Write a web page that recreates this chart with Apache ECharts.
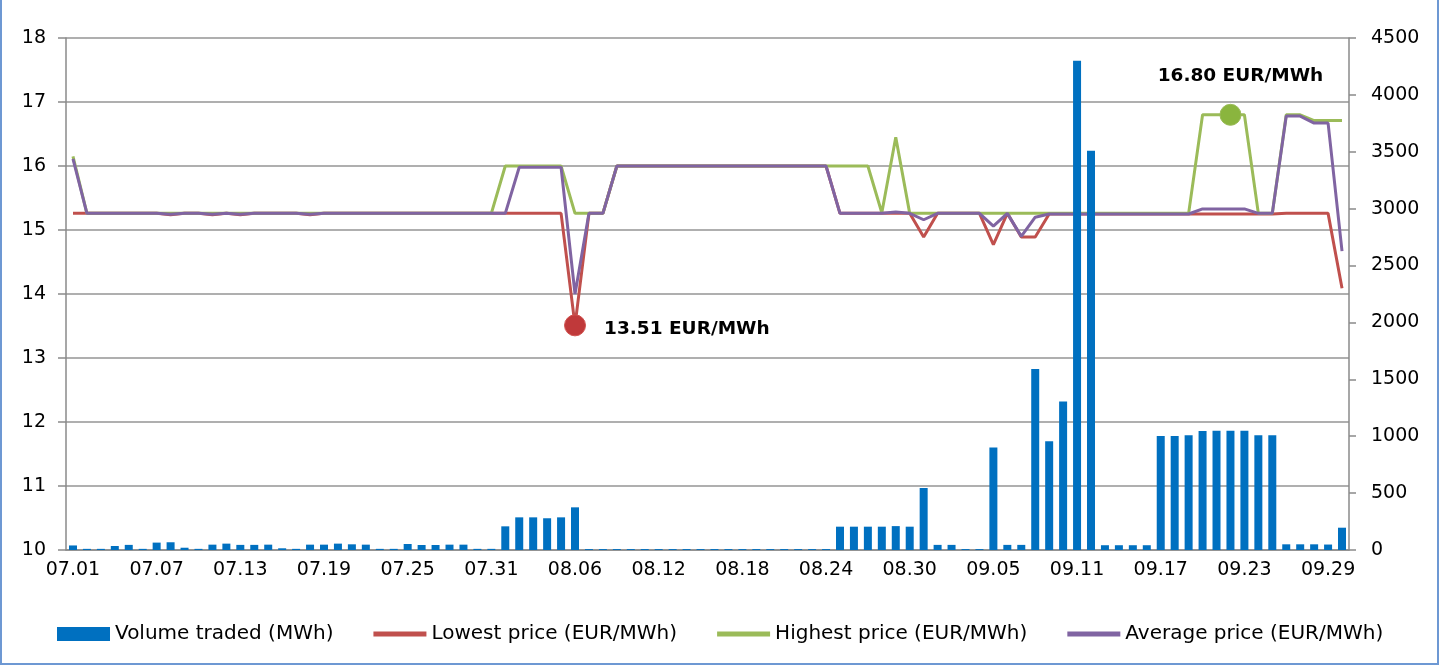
<!DOCTYPE html>
<html><head><meta charset="utf-8">
<script src="https://cdn.jsdelivr.net/npm/echarts@6/dist/echarts.min.js"></script>
<style>html,body{margin:0;padding:0;background:#fff}#c{width:1448px;height:666px}</style>
</head><body><div id="c"></div><script>
// categories: every day from 07.01 to 09.30
const months = [['07', 31], ['08', 31], ['09', 30]];
const dates = [];
months.forEach(([m, n]) => { for (let d = 1; d <= n; d++) dates.push(m + '.' + String(d).padStart(2, '0')); });

const volume = [
  40,10,10,35,45,10,65,68,20,10,
  47,56,45,45,47,15,10,47,47,56,
  50,47,10,10,53,44,44,47,47,10,
  10,208,287,287,279,287,375,8,8,8,
  8,8,8,8,8,8,8,8,8,8,
  8,8,8,8,8,205,205,205,205,210,
  205,545,45,45,8,8,900,45,45,1590,
  955,1305,4300,3510,42,42,42,42,1002,1002,
  1008,1046,1049,1049,1049,1008,1008,50,50,50,
  48,196
];
const lowest = [
  15.26,15.26,15.26,15.26,15.26,15.26,15.26,15.24,15.26,15.26,
  15.24,15.26,15.24,15.26,15.26,15.26,15.26,15.24,15.26,15.26,
  15.26,15.26,15.26,15.26,15.26,15.26,15.26,15.26,15.26,15.26,
  15.26,15.26,15.26,15.26,15.26,15.26,13.51,15.26,15.26,16.00,
  16.00,16.00,16.00,16.00,16.00,16.00,16.00,16.00,16.00,16.00,
  16.00,16.00,16.00,16.00,16.00,15.26,15.26,15.26,15.26,15.26,
  15.26,14.89,15.26,15.26,15.26,15.26,14.77,15.26,14.89,14.89,
  15.25,15.25,15.25,15.25,15.25,15.25,15.25,15.25,15.25,15.25,
  15.25,15.25,15.25,15.25,15.25,15.25,15.25,15.26,15.26,15.26,
  15.26,14.09
];
const highest = [
  16.15,15.26,15.26,15.26,15.26,15.26,15.26,15.26,15.26,15.26,
  15.26,15.26,15.26,15.26,15.26,15.26,15.26,15.26,15.26,15.26,
  15.26,15.26,15.26,15.26,15.26,15.26,15.26,15.26,15.26,15.26,
  15.26,16.00,16.00,16.00,16.00,16.00,15.26,15.26,15.26,16.00,
  16.00,16.00,16.00,16.00,16.00,16.00,16.00,16.00,16.00,16.00,
  16.00,16.00,16.00,16.00,16.00,16.00,16.00,16.00,15.27,16.45,
  15.26,15.26,15.26,15.26,15.26,15.26,15.26,15.26,15.26,15.26,
  15.26,15.26,15.26,15.26,15.26,15.26,15.26,15.26,15.26,15.26,
  15.26,16.80,16.80,16.80,16.80,15.26,15.26,16.80,16.80,16.71,
  16.71,16.71
];
const average = [
  16.11,15.26,15.26,15.26,15.26,15.26,15.26,15.245,15.26,15.26,
  15.245,15.26,15.245,15.26,15.26,15.26,15.26,15.245,15.26,15.26,
  15.26,15.26,15.26,15.26,15.26,15.26,15.26,15.26,15.26,15.26,
  15.26,15.26,15.98,15.98,15.98,15.98,14.00,15.26,15.26,16.00,
  16.00,16.00,16.00,16.00,16.00,16.00,16.00,16.00,16.00,16.00,
  16.00,16.00,16.00,16.00,16.00,15.26,15.26,15.26,15.26,15.28,
  15.26,15.16,15.26,15.26,15.26,15.26,15.06,15.26,14.90,15.20,
  15.25,15.25,15.25,15.25,15.25,15.25,15.25,15.25,15.25,15.25,
  15.25,15.33,15.33,15.33,15.33,15.26,15.26,16.78,16.78,16.67,
  16.67,14.67
];
const seriesNames = ['Volume traded (MWh)', 'Lowest price (EUR/MWh)', 'Highest price (EUR/MWh)', 'Average price (EUR/MWh)'];
const minLabel = '13.51 EUR/MWh';
const maxLabel = '16.80 EUR/MWh';
const minIndex = 36, maxIndex = 83;

const FONT = 'DejaVu Sans';
const lineIcon = 'path://M0 0H53V5H0Z';
const chart = echarts.init(document.getElementById('c'), null, { renderer: 'canvas' });
chart.setOption({
  animation: false,
  backgroundColor: '#fff',
  textStyle: { fontFamily: FONT, color: '#000' },
  graphic: [{
    type: 'rect', shape: { x: 1, y: -4, width: 1437, height: 668 },
    style: { fill: 'none', stroke: '#6d98d3', lineWidth: 2 }, silent: true, z: 100
  }],
  grid: { left: 66, right: 99, top: 38, bottom: 116, containLabel: false },
  legend: {
    left: 57, top: 624, padding: 0, itemWidth: 53, itemHeight: 14, itemGap: 40,
    textStyle: { fontFamily: FONT, fontSize: 20, color: '#000' },
    data: [
      { name: seriesNames[0], icon: 'rect' },
      { name: seriesNames[1], icon: lineIcon },
      { name: seriesNames[2], icon: lineIcon },
      { name: seriesNames[3], icon: lineIcon }
    ]
  },
  xAxis: {
    type: 'category', data: dates, boundaryGap: true,
    axisLine: { lineStyle: { color: '#8a8a8a', width: 1.5 } },
    axisTick: { interval: 0, length: 6, lineStyle: { color: '#8a8a8a', width: 1.5 } },
    axisLabel: { interval: 5, margin: 11, fontSize: 19, fontFamily: FONT, color: '#000' }
  },
  yAxis: [
    {
      type: 'value', min: 10, max: 18, interval: 1, position: 'left',
      axisLine: { show: true, lineStyle: { color: '#8a8a8a', width: 1.5 } },
      axisTick: { show: true, length: 8, lineStyle: { color: '#8a8a8a', width: 1.5 } },
      axisLabel: { margin: 20, fontSize: 19, fontFamily: FONT, color: '#000' },
      splitLine: { lineStyle: { color: '#959595', width: 1.5 } }
    },
    {
      type: 'value', min: 0, max: 4500, interval: 500, position: 'right',
      axisLine: { show: true, lineStyle: { color: '#8a8a8a', width: 1.5 } },
      axisTick: { show: true, length: 7, lineStyle: { color: '#8a8a8a', width: 1.5 } },
      axisLabel: { margin: 22, fontSize: 19, fontFamily: FONT, color: '#000', formatter: v => String(v) },
      splitLine: { show: false }
    }
  ],
  series: [
    {
      name: seriesNames[0], type: 'bar', yAxisIndex: 1, data: volume, barWidth: 8, z: 5,
      itemStyle: { color: '#0070c0' }
    },
    {
      name: seriesNames[1], type: 'line', data: lowest, symbol: 'none', z: 2,
      lineStyle: { color: '#c0504d', width: 3 }, itemStyle: { color: '#c0504d' },
      markPoint: {
        symbol: 'circle', symbolSize: 21,
        itemStyle: { color: '#c0393a', borderColor: '#d0504d', borderWidth: 1 },
        label: { show: true, position: 'right', distance: 18, offset: [0, 4], formatter: minLabel,
          fontFamily: FONT, fontWeight: 'bold', fontSize: 18.5, color: '#000' },
        data: [{ coord: [minIndex, lowest[minIndex]] }]
      }
    },
    {
      name: seriesNames[2], type: 'line', data: highest, symbol: 'none', z: 2,
      lineStyle: { color: '#9bbb59', width: 3 }, itemStyle: { color: '#9bbb59' },
      markPoint: {
        symbol: 'circle', symbolSize: 21,
        itemStyle: { color: '#8ab53e', borderColor: '#9bbb59', borderWidth: 1 },
        label: { show: true, position: 'top', distance: 5, offset: [10, -13], formatter: maxLabel,
          fontFamily: FONT, fontWeight: 'bold', fontSize: 18.5, color: '#000' },
        data: [{ coord: [maxIndex, highest[maxIndex]] }]
      }
    },
    {
      name: seriesNames[3], type: 'line', data: average, symbol: 'none', z: 3,
      lineStyle: { color: '#8064a2', width: 3 }, itemStyle: { color: '#8064a2' }
    }
  ]
});
</script></body></html>
